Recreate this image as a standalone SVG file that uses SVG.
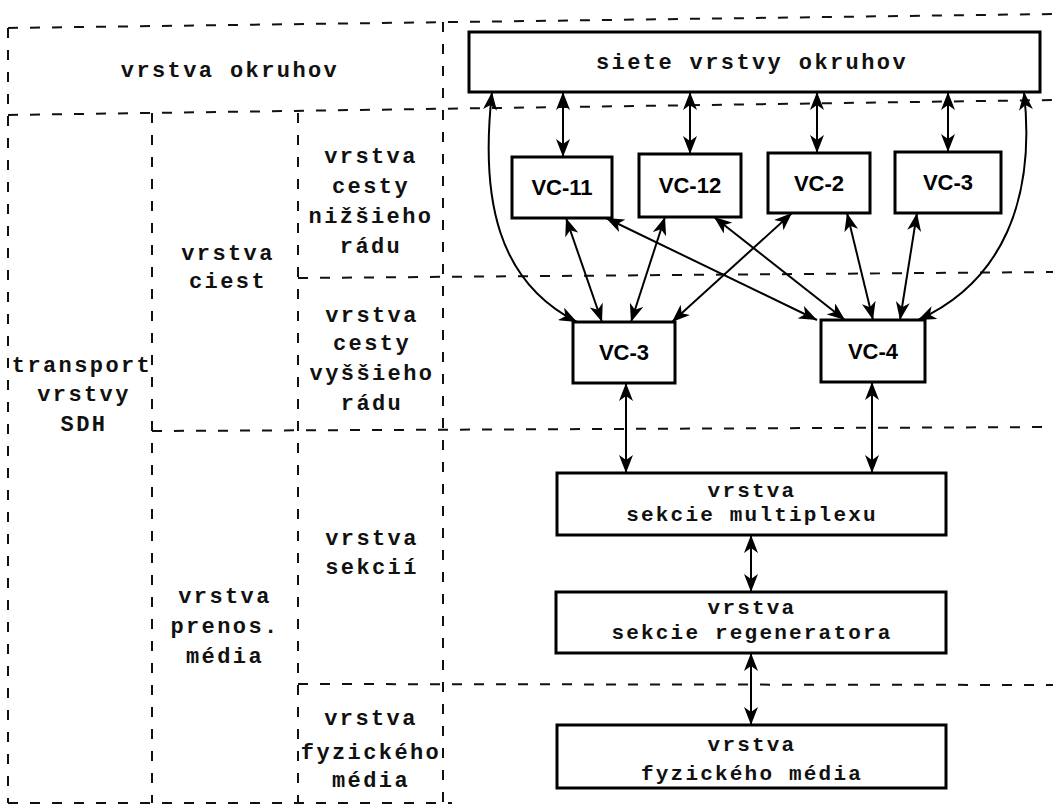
<svg xmlns="http://www.w3.org/2000/svg" width="1053" height="810" viewBox="0 0 1053 810">
  <style>
    .grid { stroke: #111; stroke-width: 2; stroke-dasharray: 10 12; fill: none; }
    .box { fill: #fff; stroke: #000; stroke-width: 3; }
    .lbl { font-family: "Liberation Mono", "DejaVu Sans Mono", monospace; font-size: 22px; font-weight: bold; letter-spacing: 2.4px; fill: #111; text-anchor: middle; }
    .sm { font-size: 21px; letter-spacing: 2.2px; }
    .vc { font-family: "Liberation Sans", Arial, sans-serif; font-size: 22px; font-weight: bold; fill: #000; text-anchor: middle; }
    .link { stroke: #000; stroke-width: 2; fill: none; marker-start: url(#ah); marker-end: url(#ah); }
  </style>
  <defs>
    <!-- barbed filled arrowhead used at both ends of every link -->
    <marker id="ah" viewBox="0 0 18 14" refX="18" refY="7" markerWidth="18" markerHeight="14" markerUnits="userSpaceOnUse" orient="auto-start-reverse">
      <path d="M0,0 L18,7 L0,14 L5,7 z" fill="#000"/>
    </marker>
  </defs>
  <rect width="1053" height="810" fill="#fff"/>

  <!-- layer grid (dashed) -->
  <g id="grid">
    <line class="grid" x1="8" y1="28" x2="1053" y2="14"/>
    <line class="grid" x1="8" y1="115" x2="1053" y2="100"/>
    <line class="grid" x1="298" y1="278" x2="1053" y2="272"/>
    <line class="grid" x1="152" y1="431" x2="1053" y2="427"/>
    <line class="grid" x1="298" y1="684" x2="1053" y2="685"/>
    <line class="grid" x1="8" y1="803" x2="452" y2="803"/>
    <line class="grid" x1="8" y1="28" x2="8" y2="803"/>
    <line class="grid" x1="152" y1="113" x2="152" y2="803"/>
    <line class="grid" x1="298" y1="113" x2="298" y2="803"/>
    <line class="grid" x1="443" y1="22" x2="443" y2="803"/>
  </g>

  <!-- layer names -->
  <g id="layer-labels">
    <text class="lbl" x="230" y="77">vrstva okruhov</text>
    <text class="lbl" x="371"><tspan x="371" y="163">vrstva</tspan><tspan x="371" y="193">cesty</tspan><tspan x="371" y="223">nižšieho</tspan><tspan x="371" y="253">rádu</tspan></text>
    <text class="lbl" x="228"><tspan x="228" y="260">vrstva</tspan><tspan x="228" y="288">ciest</tspan></text>
    <text class="lbl" x="82"><tspan x="82" y="372">transport</tspan><tspan x="84" y="401">vrstvy</tspan><tspan x="84" y="431">SDH</tspan></text>
    <text class="lbl" x="372"><tspan x="372" y="322">vrstva</tspan><tspan x="372" y="350">cesty</tspan><tspan x="372" y="380">vyššieho</tspan><tspan x="372" y="410">rádu</tspan></text>
    <text class="lbl" x="372"><tspan x="372" y="545">vrstva</tspan><tspan x="372" y="574">sekcií</tspan></text>
    <text class="lbl" x="225"><tspan x="225" y="603">vrstva</tspan><tspan x="225" y="633">prenos.</tspan><tspan x="225" y="663">média</tspan></text>
    <text class="lbl" x="371"><tspan x="371" y="725">vrstva</tspan><tspan x="371" y="759">fyzického</tspan><tspan x="371" y="787">média</tspan></text>
  </g>

  <!-- connectors -->
  <g id="connectors">
    <line class="link" x1="563" y1="92" x2="563" y2="157"/>
    <line class="link" x1="690" y1="92" x2="690" y2="154"/>
    <line class="link" x1="817" y1="92" x2="817" y2="153"/>
    <line class="link" x1="948" y1="92" x2="948" y2="152"/>
    <path class="link" d="M492,92 C480,200 498,282 577,322"/>
    <path class="link" d="M1024,92 C1036,200 1002,282 918,320"/>
    <line class="link" x1="566" y1="218" x2="602" y2="322"/>
    <line class="link" x1="606" y1="218" x2="817" y2="320"/>
    <line class="link" x1="665" y1="217" x2="631" y2="322"/>
    <line class="link" x1="714" y1="217" x2="845" y2="320"/>
    <line class="link" x1="792" y1="213" x2="672" y2="322"/>
    <line class="link" x1="847" y1="213" x2="873" y2="320"/>
    <line class="link" x1="917" y1="213" x2="900" y2="320"/>
    <line class="link" x1="626" y1="383" x2="626" y2="473"/>
    <line class="link" x1="872" y1="382" x2="872" y2="473"/>
    <line class="link" x1="751" y1="535" x2="751" y2="592"/>
    <line class="link" x1="751" y1="653" x2="751" y2="725"/>
  </g>

  <g id="siete-vrstvy-okruhov">
    <rect class="box" x="469" y="32" width="571" height="60"/>
    <text class="lbl" x="752" y="69">siete vrstvy okruhov</text>
  </g>
  <g id="vc-11">
    <rect class="box" x="512" y="157" width="100" height="61"/>
    <text class="vc" x="562" y="195">VC-11</text>
  </g>
  <g id="vc-12">
    <rect class="box" x="639" y="154" width="102" height="63"/>
    <text class="vc" x="690" y="193">VC-12</text>
  </g>
  <g id="vc-2">
    <rect class="box" x="768" y="153" width="102" height="60"/>
    <text class="vc" x="819" y="191">VC-2</text>
  </g>
  <g id="vc-3-top">
    <rect class="box" x="895" y="152" width="106" height="61"/>
    <text class="vc" x="948" y="190">VC-3</text>
  </g>
  <g id="vc-3-lower">
    <rect class="box" x="573" y="322" width="102" height="61"/>
    <text class="vc" x="624" y="360">VC-3</text>
  </g>
  <g id="vc-4">
    <rect class="box" x="821" y="320" width="104" height="62"/>
    <text class="vc" x="873" y="359">VC-4</text>
  </g>
  <g id="sekcie-multiplexu">
    <rect class="box" x="557" y="473" width="389" height="62"/>
    <text class="lbl sm" x="752"><tspan x="752" y="497">vrstva</tspan><tspan x="752" y="521">sekcie multiplexu</tspan></text>
  </g>
  <g id="sekcie-regeneratora">
    <rect class="box" x="556" y="592" width="390" height="61"/>
    <text class="lbl sm" x="752"><tspan x="752" y="614">vrstva</tspan><tspan x="752" y="639">sekcie regeneratora</tspan></text>
  </g>
  <g id="fyzickeho-media">
    <rect class="box" x="557" y="725" width="389" height="63"/>
    <text class="lbl sm" x="752"><tspan x="752" y="751">vrstva</tspan><tspan x="752" y="780">fyzického média</tspan></text>
  </g>
</svg>
